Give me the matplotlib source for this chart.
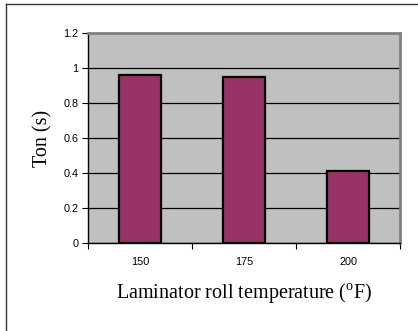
import matplotlib
matplotlib.use("Agg")
import matplotlib.pyplot as plt
from matplotlib.lines import Line2D

categories = ["150", "175", "200"]
ton_values = [0.96, 0.95, 0.41]
y_ticks = [0, 0.2, 0.4, 0.6, 0.8, 1.0, 1.2]
y_tick_labels = ["0", "0.2", "0.4", "0.6", "0.8", "1", "1.2"]

plt.rcParams['mathtext.fontset'] = 'custom'
plt.rcParams['mathtext.rm'] = 'Liberation Serif'

W, H = 418, 331
fig = plt.figure(figsize=(W / 100, H / 100), dpi=100)
fig.patch.set_facecolor("white")

# outer chart border (clipped at right/bottom in the reference)
fig.add_artist(Line2D([5.5 / W, 1.0], [1 - 3.5 / H, 1 - 3.5 / H], transform=fig.transFigure,
                      color="#333333", lw=1.0))
fig.add_artist(Line2D([5.5 / W, 5.5 / W], [0, 1 - 3.5 / H], transform=fig.transFigure,
                      color="#333333", lw=1.0))

ax = fig.add_axes([88 / W, 1 - 243 / H, (400 - 88) / W, (243 - 33) / H])
ax.set_facecolor("#C0C0C0")

x = list(range(len(categories)))
ax.bar(x, ton_values, width=0.4, color="#993366", edgecolor="black", linewidth=1.6, zorder=3)

ax.set_xlim(-0.5, len(categories) - 0.5)
ax.set_ylim(0, 1.2)
ax.set_yticks(y_ticks)
ax.set_yticklabels(y_tick_labels, fontfamily="Liberation Sans", fontsize=7.8)
ax.yaxis.grid(True, color="black", linewidth=0.9, zorder=1)
ax.set_axisbelow(True)

ax.set_xticks(x)
ax.set_xticklabels(categories, fontfamily="Liberation Sans", fontsize=7.8)
ax.set_xticks([i - 0.5 for i in range(len(categories) + 1)], minor=True)
ax.tick_params(axis="x", which="major", length=0, pad=10)
ax.tick_params(axis="x", which="minor", length=4, width=0.8, color="black", direction="out")
ax.tick_params(axis="y", which="major", length=4, width=0.8, color="black", direction="out", pad=3)

for side in ("top", "right"):
    ax.spines[side].set_color("#808080")
    ax.spines[side].set_linewidth(2)
for side in ("left", "bottom"):
    ax.spines[side].set_color("black")
    ax.spines[side].set_linewidth(1)

ax.set_ylabel("Ton (s)", fontfamily="Liberation Serif", fontsize=14.5, labelpad=8)
ax.set_xlabel(r"Laminator roll temperature ($^{\mathrm{o}}$F)", fontfamily="Liberation Serif",
              fontsize=14.5, labelpad=10)

fig.savefig("out.png", dpi=100)
